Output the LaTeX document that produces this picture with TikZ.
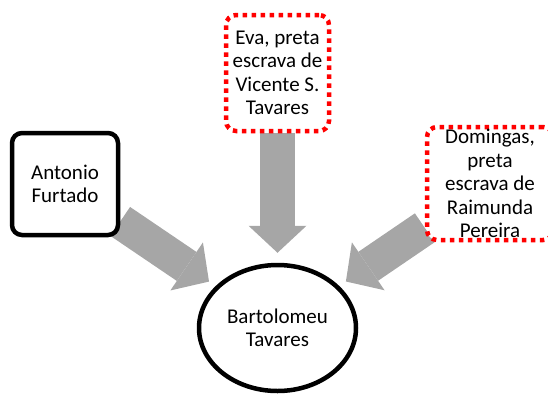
\documentclass[tikz,border=0pt]{standalone}
\usepackage{fontspec}
\setmainfont{Carlito}
\usetikzlibrary{arrows.meta,shapes.geometric}
\pgfdeclarelayer{background}
\pgfsetlayers{background,main}
\definecolor{arrowgray}{RGB}{166,166,166}
\tikzset{
  txt/.style={font=\fontsize{21}{23.5}\selectfont, align=center, text=black, inner sep=0pt},
  blackbox/.style={txt, draw=black, line width=4.5pt, rounded corners=10pt, fill=white},
  redbox/.style={txt, draw=red, line width=4.5pt, dash pattern=on 4.5pt off 4.5pt, rounded corners=10pt, fill=white},
  oval/.style={txt, ellipse, draw=black, line width=4.5pt, fill=white},
  bigarrow/.style={draw=arrowgray, line width=35pt, -{Triangle[width=58pt,length=27pt,line width=0pt]}}
}
\begin{document}
\begin{tikzpicture}[x=1pt,y=-1pt]
\useasboundingbox (0,0) rectangle (548,394);
\clip (0,0) rectangle (548,394);
\node[blackbox, minimum width=106pt, minimum height=102pt] (ant) at (65,184) {Antonio\\Furtado};
\node[redbox, minimum width=103pt, minimum height=116pt] (eva) at (277.5,73) {Eva, preta\\escrava de\\Vicente S.\\Tavares};
\node[redbox, minimum width=126pt, minimum height=113pt] (dom) at (490,183.5) {Domingas,\\preta\\escrava de\\Raimunda\\Pereira};
\node[oval, minimum width=157pt, minimum height=126pt] (bart) at (277.5,328) {Bartolomeu\\Tavares};
\begin{pgfonlayer}{background}
\draw[bigarrow, shorten >=8pt] (ant) -- (bart);
\draw[bigarrow, shorten >=10pt] (eva.south) -- (bart.north);
\draw[bigarrow, shorten >=8pt] (dom) -- (bart);
\end{pgfonlayer}
\end{tikzpicture}
\end{document}
